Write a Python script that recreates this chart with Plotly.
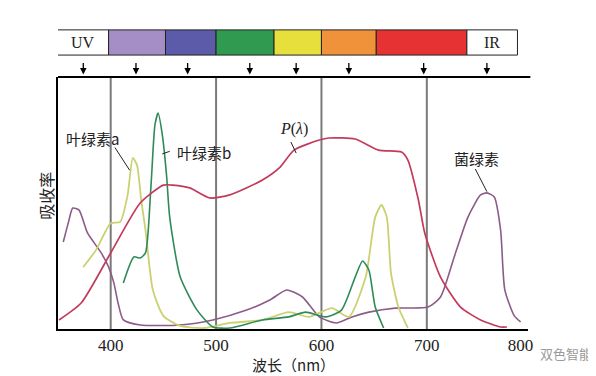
import plotly.graph_objects as go

# ---------------- data ----------------
p_nm = [351, 372, 400, 428, 450, 459, 475, 494, 513, 544, 560, 574, 598, 607, 632, 654, 676, 682, 692, 698, 713, 732, 751, 770, 776]
p_val = [3.6, 10.3, 30.2, 50, 57.1, 57.1, 56, 52, 53.2, 59.1, 63.9, 71, 75, 75.8, 75.4, 71, 70.2, 67, 51.2, 38.1, 20.6, 8.7, 3.6, 0.8, 0.8]

chla_nm = [374, 386, 400, 409, 416, 421, 425, 429, 433, 440, 450, 466, 489, 513, 544, 569, 588, 610, 626, 642, 651, 657, 662, 666, 673, 682]
chla_val = [24.6, 31.3, 42, 42.5, 53, 67.9, 65, 51, 39.3, 15.5, 5.2, 1.2, 0.4, 2.4, 3.6, 6.7, 4.8, 8.3, 4.8, 20.6, 44.4, 49.2, 44.4, 22.2, 8.7, 0.4]

chlb_nm = [412, 422, 428, 433, 438, 442, 445, 449, 453, 456, 466, 482, 497, 513, 544, 569, 585, 604, 619, 632, 639, 645, 651, 659]
chlb_val = [18.3, 28.6, 28.2, 30.2, 55.2, 81, 85.7, 77, 61, 44.4, 20.6, 7.5, 0.8, 0.4, 3.6, 4.8, 6.7, 4.8, 7.5, 20.6, 27, 23.4, 8.7, 0.4]

bchl_nm = [355, 360, 364, 370, 378, 391, 398, 403, 407, 412, 428, 466, 497, 529, 551, 567, 582, 598, 614, 629, 645, 670, 701, 713, 726, 739, 751, 757, 764, 770, 774, 783, 789]
bchl_val = [34.5, 42.5, 48, 47.2, 38.1, 30.2, 24.6, 18.3, 10.3, 3.6, 1.6, 1.6, 3.6, 7.5, 11.5, 15.5, 12.7, 4.8, 2.4, 4.8, 6.7, 8.3, 8.7, 12.7, 28.6, 44.4, 53.2, 54, 52.4, 39.3, 15.5, 5.2, 2.8]

band_edges = [349, 398, 452, 500, 555, 600, 652, 738, 786]
band_names = ["UV", "", "", "", "", "", "", "IR"]
band_colors = ["#ffffff", "#a58ec6", "#5b5ba9", "#2f9a50", "#e6df3c", "#f0923a", "#e63232", "#ffffff"]

arrow_nm = [374, 424, 473, 532, 576, 626, 697, 757]
grid_nm = [400, 500, 600, 700]
tick_vals = [400, 500, 600, 700, 789]
tick_text = ["400", "500", "600", "700", "800"]

# ---------------- figure ----------------
fig = go.Figure()

serif = "Liberation Serif"
cjk = "Noto Sans CJK SC"

shapes = []
for g in grid_nm:
    shapes.append(dict(type="line", xref="x", yref="paper", x0=g, x1=g, y0=0, y1=1,
                       line=dict(color="#7a7a7a", width=2), layer="below"))

fig.add_trace(go.Scatter(x=bchl_nm, y=bchl_val, mode="lines", line=dict(color="#8c5b88", width=1.6, shape="spline", smoothing=0.6), showlegend=False))
fig.add_trace(go.Scatter(x=chla_nm, y=chla_val, mode="lines", line=dict(color="#cbd171", width=1.8, shape="spline", smoothing=0.6), showlegend=False))
fig.add_trace(go.Scatter(x=chlb_nm, y=chlb_val, mode="lines", line=dict(color="#2f8a58", width=1.6, shape="spline", smoothing=0.6), showlegend=False))
fig.add_trace(go.Scatter(x=p_nm, y=p_val, mode="lines", line=dict(color="#c23b5c", width=1.7, shape="spline", smoothing=0.6), showlegend=False))

for i in range(len(band_colors)):
    shapes.append(dict(type="rect", xref="x", yref="paper", x0=band_edges[i], x1=band_edges[i + 1],
                       y0=1.087, y1=1.187, fillcolor=band_colors[i], line=dict(color="#222222", width=1)))
shapes.append(dict(type="line", xref="paper", yref="paper", x0=0, x1=1.005, y0=1, y1=1,
                   line=dict(color="black", width=2)))

annotations = []
for i, nm in enumerate(band_names):
    if nm:
        annotations.append(dict(x=(band_edges[i] + band_edges[i + 1]) / 2, y=1.137, xref="x", yref="paper",
                                xanchor="center", yanchor="middle",
                                text=nm, showarrow=False, font=dict(family=serif, size=16, color="#222")))
for a in arrow_nm:
    annotations.append(dict(x=a, y=1.01, xref="x", yref="paper", ax=0, ay=-13, text="",
                            showarrow=True, arrowhead=2, arrowsize=1, arrowwidth=1.3, arrowcolor="black"))

def label(text, tx, ty, font):
    annotations.append(dict(x=tx, y=ty, xref="x", yref="y", text=text, showarrow=False,
                            xanchor="center", yanchor="middle", font=font))

lab_font = dict(family=cjk, size=15, color="#222")
label("叶绿素a", 383, 75.4, lab_font)
label("叶绿素b", 489, 70.2, lab_font)
label("<i>P</i>(<i>λ</i>)", 574, 79.5, dict(family=serif, size=16, color="#222"))
label("菌绿素", 747, 67.5, lab_font)

leaders = [((404, 72), (418, 63)), ((449, 69.5), (456, 70.5)), ((571, 74.2), (576, 69.8)), ((746, 63.5), (757, 54.5))]
for (x0, y0), (x1, y1) in leaders:
    shapes.append(dict(type="line", xref="x", yref="y", x0=x0, y0=y0, x1=x1, y1=y1,
                       line=dict(color="#222", width=1)))

annotations.append(dict(x=-0.025, y=0.53, xref="paper", yref="paper", text="吸收率", textangle=-90,
                        xanchor="center", yanchor="middle",
                        showarrow=False, font=dict(family=cjk, size=16, color="#222")))
annotations.append(dict(x=0.5, y=(329 - 364) / 252, xref="paper", yref="paper", text="波长（nm）",
                        xanchor="center", yanchor="middle",
                        showarrow=False, font=dict(family=cjk, size=15, color="#222")))
annotations.append(dict(x=(566 - 58) / 470, y=(329 - 353) / 252, xref="paper", yref="paper",
                        xanchor="center", yanchor="middle",
                        text="双色智能", showarrow=False,
                        font=dict(family=cjk, size=13, color="#9a9a9a")))

# page body has an 8px default margin; compensate so the plot lands where the reference has it
fig.update_layout(
    width=588, height=368,
    margin=dict(l=50, r=68, t=69, b=47),
    paper_bgcolor="white", plot_bgcolor="white",
    shapes=shapes, annotations=annotations,
    xaxis=dict(range=[350, 796], showgrid=False, zeroline=False, showline=True, linecolor="black",
               linewidth=2, ticks="", tickvals=tick_vals, ticktext=tick_text,
               tickfont=dict(family=serif, size=17, color="#222")),
    yaxis=dict(range=[0, 100], showgrid=False, zeroline=False, showline=True, linecolor="black",
               linewidth=1.5, showticklabels=False, ticks=""),
)

fig.write_html("out.html")
